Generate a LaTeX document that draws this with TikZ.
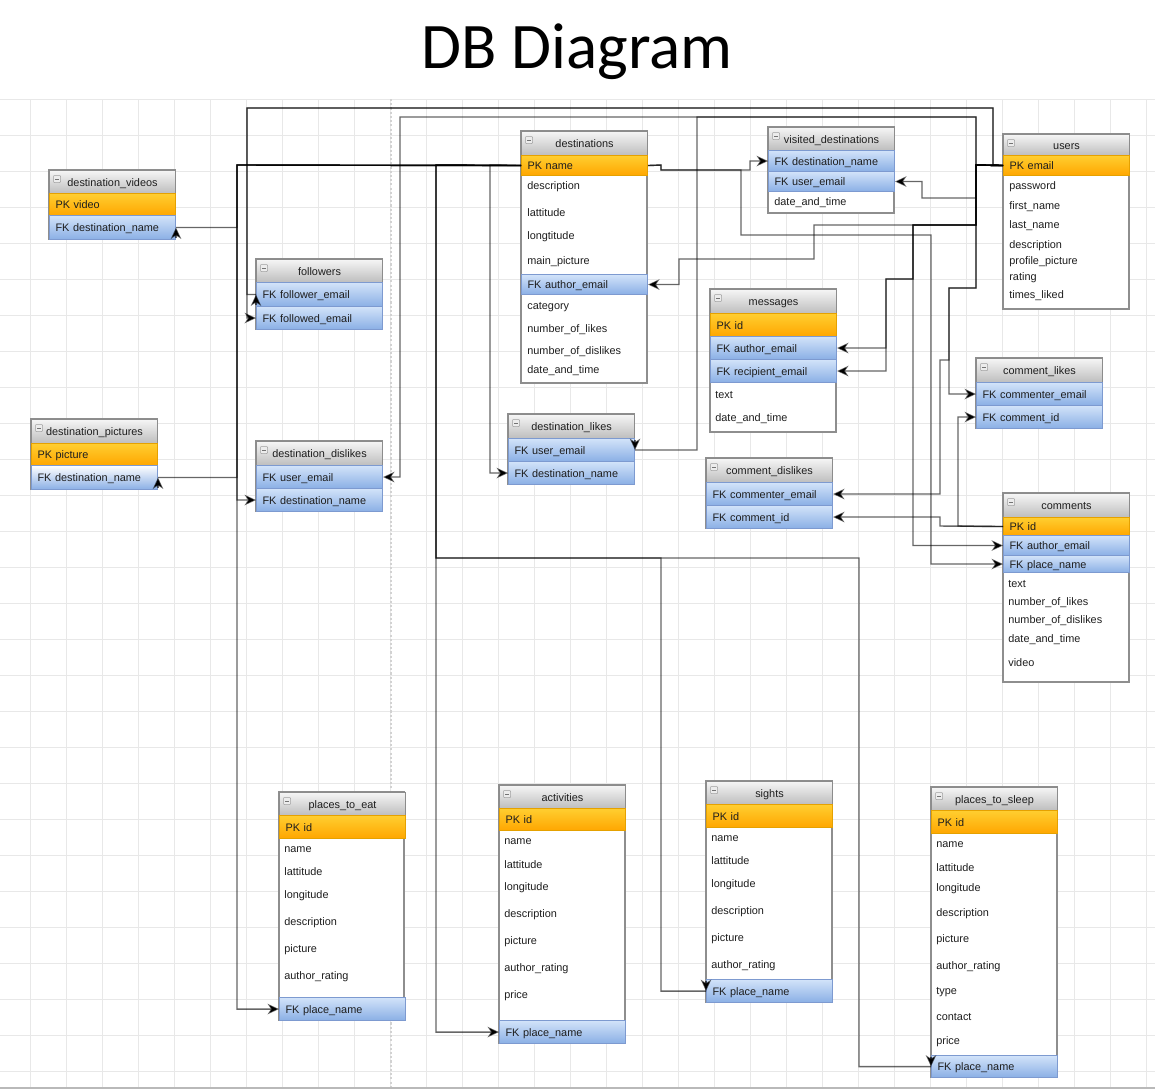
\documentclass[tikz,border=0pt]{standalone}
\usepackage{fontspec}
\setmainfont{Liberation Sans}
\newfontfamily\dbtitlefont{Carlito}
\usepackage{tikz}
\usetikzlibrary{arrows.meta}
\definecolor{gridcol}{HTML}{E8E8E8}
\definecolor{hdrtop}{HTML}{F5F5F5}
\definecolor{hdrbot}{HTML}{BDBDBD}
\definecolor{hdrline}{HTML}{8C8C8C}
\definecolor{pktop}{HTML}{FFCE30}
\definecolor{pkbot}{HTML}{FFA600}
\definecolor{pkline}{HTML}{E5A100}
\definecolor{fktop}{HTML}{D2E3F9}
\definecolor{fkbot}{HTML}{8AAFE5}
\definecolor{fkline}{HTML}{7D9AD0}
\definecolor{frameline}{HTML}{8E8E8E}
\definecolor{txtcol}{HTML}{1E1E1E}
\newcommand{\dbfont}{\fontsize{6.2}{7}\selectfont}

\tikzset{
  gridline/.style={draw=gridcol, line width=0.4pt},
  tabframe/.style={draw=frameline, line width=0.6pt, fill=white},
  hdr/.style={anchor=north west, minimum width=2.52cm, minimum height=#1*0.02cm,
    inner sep=0pt, draw=hdrline, line width=0.6pt, top color=hdrtop, bottom color=hdrbot,
    font=\dbfont, text=txtcol, text height=5.4pt, text depth=0.8pt,
    path picture={
      \draw[draw=gray!75, fill=gray!15, line width=0.3pt, rounded corners=0.4pt]
        ([xshift=0.08cm,yshift=-0.1cm]path picture bounding box.north west) rectangle ++(0.14cm,-0.14cm);
      \draw[gray!90!black, line width=0.4pt]
        ([xshift=0.11cm,yshift=-0.17cm]path picture bounding box.north west) -- ++(0.08cm,0);
    }},
  dbrow/.style={anchor=north west, minimum height=#1*0.02cm, text width=2.28cm,
    inner xsep=0.12cm, inner ysep=0pt, align=left, line width=0.6pt,
    font=\dbfont, text=txtcol, text height=5.4pt, text depth=0.8pt},
  pk/.style={dbrow=#1, draw=pkline, top color=pktop, bottom color=pkbot},
  fk/.style={dbrow=#1, draw=fkline, top color=fktop, bottom color=fkbot},
  fklight/.style={dbrow=#1, draw=fkline, top color=white, bottom color=fkbot},
  fld/.style={anchor=west, inner sep=0pt, font=\dbfont, text=txtcol},
  wire/.style={draw=black, draw opacity=0.6, line width=0.8pt},
  con/.style={wire, -{Stealth[length=6.5pt,width=6pt,inset=2pt,fill=black]}}
}

\begin{document}
\begin{tikzpicture}[x=0.02cm,y=-0.02cm]
  \useasboundingbox (0,0) rectangle (1155,1090);
  \fill[white] (0,0) rectangle (1155,1090);
  % background grid
  \foreach \gx in {30,66,...,1146}
    \draw[gridline] (\gx,99) -- (\gx,1088);
  \foreach \gy in {99,135,...,1088}
    \draw[gridline] (0,\gy) -- (1155,\gy);
  \draw[gray!35, dash pattern=on 1.2pt off 1.2pt, line width=0.6pt] (391,99) -- (391,1088);
  \draw[gray!55, line width=0.8pt] (0,1088) -- (1155,1088);

  \node[font=\dbtitlefont\fontsize{37}{40}\selectfont, anchor=base] (title) at (577,68) {DB Diagram};

  % destination_videos
  \draw[tabframe] (49,170) rectangle (175,239);
  \node[hdr=23] (dv) at (49,170) {destination\_videos};
  \node[pk=22] (dv-pk) at (49,193) {PK video};
  \node[fk=24] (dv-fk) at (49,215) {FK destination\_name};

  % followers
  \draw[tabframe] (256,259) rectangle (382,329);
  \node[hdr=23] (fol) at (256,259) {followers};
  \node[fk=24] (fol-er) at (256,282) {FK follower\_email};
  \node[fk=23] (fol-ed) at (256,306) {FK followed\_email};

  % destination_pictures
  \draw[tabframe] (31,419) rectangle (157,489);
  \node[hdr=24] (dp) at (31,419) {destination\_pictures};
  \node[pk=22] (dp-pk) at (31,443) {PK picture};
  \node[fklight=24] (dp-fk) at (31,465) {FK destination\_name};

  % destination_dislikes
  \draw[tabframe] (256,441) rectangle (382,511);
  \node[hdr=24] (dd) at (256,441) {destination\_dislikes};
  \node[fk=23] (dd-user) at (256,465) {FK user\_email};
  \node[fk=23] (dd-dest) at (256,488) {FK destination\_name};

  % destinations
  \draw[tabframe] (521,131) rectangle (647,383);
  \node[hdr=24] (dst) at (521,131) {destinations};
  \node[pk=20] (dst-name) at (521,155) {PK name};
  \node[fld] (dst-desc) at (527,187) {description};
  \node[fld] (dst-lat) at (527,213) {lattitude};
  \node[fld] (dst-lon) at (527,237) {longtitude};
  \node[fld] (dst-pic) at (527,262) {main\_picture};
  \node[fk=20] (dst-auth) at (521,274) {FK author\_email};
  \node[fld] (dst-cat) at (527,307) {category};
  \node[fld] (dst-nl) at (527,330) {number\_of\_likes};
  \node[fld] (dst-nd) at (527,352) {number\_of\_dislikes};
  \node[fld] (dst-dt) at (527,371) {date\_and\_time};

  % visited_destinations
  \draw[tabframe] (768,127) rectangle (894,213);
  \node[hdr=23] (vd) at (768,127) {visited\_destinations};
  \node[fk=21] (vd-dest) at (768,150) {FK destination\_name};
  \node[fk=20] (vd-user) at (768,171) {FK user\_email};
  \node[fld] (vd-dt) at (774,203) {date\_and\_time};

  % users
  \draw[tabframe] (1003,134) rectangle (1129,309);
  \node[hdr=21] (usr) at (1003,134) {users};
  \node[pk=20] (usr-email) at (1003,155) {PK email};
  \node[fld] (usr-pw) at (1009,187) {password};
  \node[fld] (usr-fn) at (1009,207) {first\_name};
  \node[fld] (usr-ln) at (1009,226) {last\_name};
  \node[fld] (usr-desc) at (1009,246) {description};
  \node[fld] (usr-pic) at (1009,262) {profile\_picture};
  \node[fld] (usr-rt) at (1009,278) {rating};
  \node[fld] (usr-tl) at (1009,296) {times\_liked};

  % messages
  \draw[tabframe] (710,289) rectangle (836,432);
  \node[hdr=24] (msg) at (710,289) {messages};
  \node[pk=23] (msg-pk) at (710,313) {PK id};
  \node[fk=23] (msg-auth) at (710,336) {FK author\_email};
  \node[fk=23] (msg-rec) at (710,359) {FK recipient\_email};
  \node[fld] (msg-txt) at (715,395) {text};
  \node[fld] (msg-dt) at (715,419) {date\_and\_time};

  % destination_likes
  \draw[tabframe] (508,414) rectangle (634,484);
  \node[hdr=24] (dl) at (508,414) {destination\_likes};
  \node[fk=23] (dl-user) at (508,438) {FK user\_email};
  \node[fk=23] (dl-dest) at (508,461) {FK destination\_name};

  % comment_likes
  \draw[tabframe] (976,358) rectangle (1102,428);
  \node[hdr=24] (cl) at (976,358) {comment\_likes};
  \node[fk=23] (cl-comm) at (976,382) {FK commenter\_email};
  \node[fk=23] (cl-cid) at (976,405) {FK comment\_id};

  % comment_dislikes
  \draw[tabframe] (706,458) rectangle (832,528);
  \node[hdr=24] (cd) at (706,458) {comment\_dislikes};
  \node[fk=23] (cd-comm) at (706,482) {FK commenter\_email};
  \node[fk=23] (cd-cid) at (706,505) {FK comment\_id};

  % comments
  \draw[tabframe] (1003,493) rectangle (1129,682);
  \node[hdr=24] (com) at (1003,493) {comments};
  \node[pk=18] (com-pk) at (1003,517) {PK id};
  \node[fk=20] (com-auth) at (1003,535) {FK author\_email};
  \node[fk=17] (com-place) at (1003,555) {FK place\_name};
  \node[fld] (com-txt) at (1008,584) {text};
  \node[fld] (com-nl) at (1008,603) {number\_of\_likes};
  \node[fld] (com-nd) at (1008,621) {number\_of\_dislikes};
  \node[fld] (com-dt) at (1008,640) {date\_and\_time};
  \node[fld] (com-vid) at (1008,663) {video};

  % places_to_eat
  \draw[tabframe] (279,792) rectangle (404,1020);
  \node[hdr=23] (pte) at (279,792) {places\_to\_eat};
  \node[pk=23] (pte-pk) at (279,815) {PK id};
  \node[fld] (pte-nm) at (284,850) {name};
  \node[fld] (pte-lat) at (284,872) {lattitude};
  \node[fld] (pte-lon) at (284,896) {longitude};
  \node[fld] (pte-desc) at (284,923) {description};
  \node[fld] (pte-pic) at (284,950) {picture};
  \node[fld] (pte-ar) at (284,977) {author\_rating};
  \node[fk=23] (pte-fk) at (279,997) {FK place\_name};

  % activities
  \draw[tabframe] (499,785) rectangle (625,1043);
  \node[hdr=23] (act) at (499,785) {activities};
  \node[pk=22] (act-pk) at (499,808) {PK id};
  \node[fld] (act-nm) at (504,842) {name};
  \node[fld] (act-lat) at (504,865) {lattitude};
  \node[fld] (act-lon) at (504,888) {longitude};
  \node[fld] (act-desc) at (504,915) {description};
  \node[fld] (act-pic) at (504,942) {picture};
  \node[fld] (act-ar) at (504,969) {author\_rating};
  \node[fld] (act-pr) at (504,996) {price};
  \node[fk=23] (act-fk) at (499,1020) {FK place\_name};

  % sights
  \draw[tabframe] (706,781) rectangle (832,1002);
  \node[hdr=23] (sig) at (706,781) {sights};
  \node[pk=23] (sig-pk) at (706,804) {PK id};
  \node[fld] (sig-nm) at (711,839) {name};
  \node[fld] (sig-lat) at (711,861) {lattitude};
  \node[fld] (sig-lon) at (711,885) {longitude};
  \node[fld] (sig-desc) at (711,912) {description};
  \node[fld] (sig-pic) at (711,939) {picture};
  \node[fld] (sig-ar) at (711,966) {author\_rating};
  \node[fk=23] (sig-fk) at (706,979) {FK place\_name};

  % places_to_sleep
  \draw[tabframe] (931,787) rectangle (1057,1077);
  \node[hdr=23] (pts) at (931,787) {places\_to\_sleep};
  \node[pk=23] (pts-pk) at (931,810) {PK id};
  \node[fld] (pts-nm) at (936,845) {name};
  \node[fld] (pts-lat) at (936,868) {lattitude};
  \node[fld] (pts-lon) at (936,889) {longitude};
  \node[fld] (pts-desc) at (936,914) {description};
  \node[fld] (pts-pic) at (936,940) {picture};
  \node[fld] (pts-ar) at (936,967) {author\_rating};
  \node[fld] (pts-type) at (936,992) {type};
  \node[fld] (pts-ct) at (936,1017) {contact};
  \node[fld] (pts-pr) at (936,1042) {price};
  \node[fk=22] (pts-fk) at (931,1055) {FK place\_name};

  % destinations.name -> left side
  \draw[wire] (dst-name.west) -- (237,165) |- (dv-fk.east);
  \draw[con] ([yshift=-0.2cm]dv-fk.east) -- (dv-fk.east);
  \draw[wire] (dst-name.west) -- (237,165) |- (dp-fk.east);
  \draw[con] ([yshift=-0.2cm]dp-fk.east) -- (dp-fk.east);
  \draw[con] (dst-name.west) -- (237,165) |- (dd-dest.west);
  \draw[con] (dst-name.west) -- (237,165) |- (pte-fk.west);
  \draw[con] (dst-name.west) -- (490,165) |- (dl-dest.west);
  \draw[con] (dst-name.west) -- (436,165) |- (act-fk.west);
  \draw[wire] (dst-name.west) -- (436,165) -- (436,558) -- (661,558) |- (sig-fk.west);
  \draw[con] ([yshift=0.2cm]sig-fk.west) -- (sig-fk.west);
  \draw[wire] (dst-name.west) -- (436,165) -- (436,558) -- (859,558) |- (pts-fk.west);
  \draw[con] ([yshift=0.2cm]pts-fk.west) -- (pts-fk.west);
  % destinations.name -> right side
  \draw[con] (dst-name.east) -- (661,165) -- (661,170) -- (750,170) |- (vd-dest.west);
  \draw[con] (dst-name.east) -- (661,165) -- (661,170) -- (741,170) -- (741,235) -- (931,235) |- (com-place.west);

  % users.email
  \draw[wire] (usr-email.west) -- (993,165) -- (993,108) -- (247,108) |- (fol-er.west);
  \draw[con] ([yshift=-0.2cm]fol-er.west) -- (fol-er.west);
  \draw[con] (usr-email.west) -- (993,165) -- (993,108) -- (247,108) |- (fol-ed.west);
  \draw[con] (usr-email.west) -- (976,165) -- (976,117) -- (400,117) |- (dd-user.east);
  \draw[wire] (usr-email.west) -- (976,165) -- (976,117) -- (697,117) |- (dl-user.east);
  \draw[con] ([yshift=0.2cm]dl-user.east) -- (dl-user.east);
  \draw[con] (usr-email.west) -- (976,165) -- (976,198) -- (922,198) |- (vd-user.east);
  \draw[con] (usr-email.west) -- (976,165) -- (976,225) -- (814,225) -- (814,259) -- (679,259) |- (dst-auth.east);
  \draw[con] (usr-email.west) -- (976,165) -- (976,225) -- (913,225) -- (913,279) -- (886,279) |- (msg-auth.east);
  \draw[con] (usr-email.west) -- (976,165) -- (976,225) -- (913,225) -- (913,279) -- (886,279) |- (msg-rec.east);
  \draw[con] (usr-email.west) -- (976,165) -- (976,288) -- (949,288) |- (cl-comm.west);
  \draw[con] (usr-email.west) -- (976,165) -- (976,288) -- (949,288) -- (949,360) -- (940,360) |- (cd-comm.east);
  \draw[con] (usr-email.west) -- (976,165) -- (976,225) -- (913,225) |- (com-auth.west);

  % comments.id
  \draw[con] (com-pk.west) -- (958,526) |- (cl-cid.west);
  \draw[con] (com-pk.west) -- (940,526) |- (cd-cid.east);
\end{tikzpicture}
\end{document}
